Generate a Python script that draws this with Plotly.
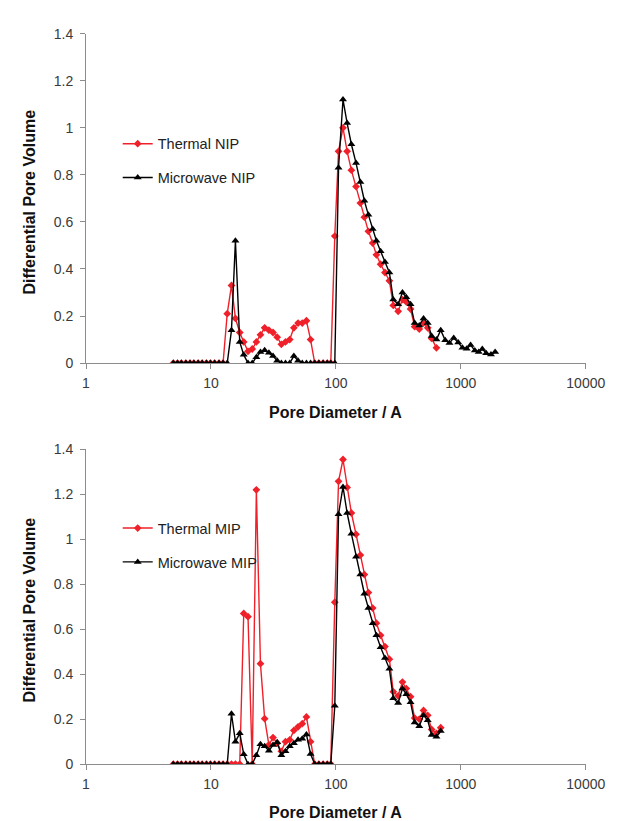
import plotly.graph_objects as go

# ---------------- data ----------------
PORE_DIAMETER = [5.0, 5.4, 5.8, 6.3, 6.8, 7.3, 7.9, 8.5, 9.2, 9.9, 10.7, 11.6, 12.5,
                 13.5, 14.6, 15.7, 17.0, 18.3, 19.8, 21.4, 23.1, 24.9, 26.9, 29.1, 31.4, 33.9,
                 36.6, 39.5, 42.7, 46.1, 49.8, 53.8, 58.1, 62.7, 67.7, 73.1, 79.0, 85.3, 91.0, 98.0,
                 105, 114, 123, 133, 145, 157, 169, 182, 197, 211,
                 228, 247, 268, 288, 315, 341, 366, 396, 427, 465,
                 503, 543, 584, 638, 690, 750, 811, 877, 953, 1030,
                 1114, 1197, 1294, 1390, 1485, 1595, 1742, 1882]

THERMAL_NIP = [0, 0, 0, 0, 0, 0, 0, 0, 0, 0, 0, 0, 0,
               0.21, 0.33, 0.19, 0.13, 0.09, 0.05, 0.06, 0.09, 0.12, 0.15, 0.14, 0.13, 0.11,
               0.08, 0.09, 0.10, 0.15, 0.17, 0.17, 0.18, 0.10, 0, 0, 0, 0, 0, 0.54,
               0.90, 1.00, 0.90, 0.82, 0.75, 0.68, 0.62, 0.56, 0.51, 0.46,
               0.42, 0.385, 0.35, 0.245, 0.22, 0.27, 0.26, 0.23, 0.155, 0.145,
               0.17, 0.15, 0.105, 0.065]

MICROWAVE_NIP = [0, 0, 0, 0, 0, 0, 0, 0, 0, 0, 0, 0, 0,
                 0, 0.14, 0.52, 0.09, 0.035, 0, 0, 0.025, 0.047, 0.055, 0.044, 0.03, 0.01,
                 0, 0, 0, 0.03, 0.01, 0, 0, 0, 0, 0, 0, 0, 0, 0,
                 0.83, 1.12, 1.02, 0.93, 0.85, 0.77, 0.69, 0.63, 0.57, 0.52,
                 0.475, 0.43, 0.385, 0.27, 0.25, 0.30, 0.28, 0.25, 0.17, 0.16,
                 0.19, 0.17, 0.115, 0.10, 0.14, 0.097, 0.085, 0.107, 0.088, 0.065,
                 0.061, 0.077, 0.054, 0.047, 0.06, 0.042, 0.037, 0.047]

THERMAL_MIP = [0, 0, 0, 0, 0, 0, 0, 0, 0, 0, 0, 0, 0,
               0, 0, 0, 0, 0.67, 0.656, 0, 1.22, 0.447, 0.202, 0.086, 0.118, 0.093,
               0.057, 0.10, 0.108, 0.15, 0.166, 0.18, 0.21, 0.10, 0, 0, 0, 0, 0, 0.72,
               1.258, 1.355, 1.231, 1.117, 1.022, 0.93, 0.843, 0.763, 0.694, 0.627,
               0.573, 0.523, 0.467, 0.322, 0.304, 0.365, 0.336, 0.30, 0.205, 0.20,
               0.239, 0.217, 0.154, 0.137, 0.162]

MICROWAVE_MIP = [0, 0, 0, 0, 0, 0, 0, 0, 0, 0, 0, 0, 0,
                 0, 0.224, 0.10, 0.137, 0.044, 0, 0, 0.04, 0.089, 0.08, 0.06, 0.085, 0.097,
                 0.04, 0.057, 0.079, 0.093, 0.108, 0.113, 0.132, 0.045, 0, 0, 0, 0, 0, 0.26,
                 1.112, 1.233, 1.117, 1.025, 0.923, 0.843, 0.758, 0.694, 0.627, 0.573,
                 0.52, 0.472, 0.424, 0.293, 0.272, 0.336, 0.311, 0.275, 0.185, 0.169,
                 0.217, 0.195, 0.13, 0.122, 0.147]

X_TICKS = [1, 10, 100, 1000, 10000]
X_TICK_LABELS = ["1", "10", "100", "1000", "10000"]
Y_TICKS = [0, 0.2, 0.4, 0.6, 0.8, 1.0, 1.2, 1.4]
Y_TICK_LABELS = ["0", "0.2", "0.4", "0.6", "0.8", "1", "1.2", "1.4"]

X_TITLE = "Pore Diameter / A"
Y_TITLE = "Differential Pore Volume"

# ---------------- style ----------------
W, H = 617, 821
RED = "#F0202A"
BLACK = "#000000"
AXIS_GREY = "#8C8C8C"
TICK_TXT = "#3A3A3A"
FONT = "Liberation Sans, Arial, sans-serif"


def fx(p):
    return p / W


def fy(p):
    return 1 - p / H


fig = go.Figure()

series = [
    ("Thermal NIP", THERMAL_NIP, RED, "diamond", 6, "x", "y", "legend", "g1"),
    ("Microwave NIP", MICROWAVE_NIP, BLACK, "triangle-up", 7, "x", "y", "legend", "g2"),
    ("Thermal MIP", THERMAL_MIP, RED, "diamond", 6, "x2", "y2", "legend2", "g3"),
    ("Microwave MIP", MICROWAVE_MIP, BLACK, "triangle-up", 7, "x2", "y2", "legend2", "g4"),
]
for name, vals, col, sym, size, xa, ya, leg, grp in series:
    fig.add_trace(go.Scatter(
        x=PORE_DIAMETER[:len(vals)], y=vals, name=name,
        mode="lines+markers",
        line=dict(color=col, width=1.4),
        marker=dict(symbol=sym, size=size, color=col, line=dict(width=0)),
        xaxis=xa, yaxis=ya, legend=leg, legendgroup=grp,
    ))

xdom = [fx(77), fx(597)]
common_x = dict(
    type="log", range=[0, 4], tickvals=X_TICKS, ticktext=X_TICK_LABELS,
    showline=True, linecolor=AXIS_GREY, linewidth=1,
    ticks="outside", ticklen=5, tickcolor=AXIS_GREY, tickwidth=1,
    showgrid=False, zeroline=False, ticklabelstandoff=2,
    tickfont=dict(family=FONT, size=14, color=TICK_TXT),
)
common_y = dict(
    range=[0, 1.4], tickvals=Y_TICKS, ticktext=Y_TICK_LABELS,
    showline=True, linecolor=AXIS_GREY, linewidth=1,
    ticks="outside", ticklen=5, tickcolor=AXIS_GREY, tickwidth=1,
    showgrid=False, zeroline=False, ticklabelstandoff=4,
    tickfont=dict(family=FONT, size=14, color=TICK_TXT),
)

legend_common = dict(
    xanchor="left", yanchor="top", bgcolor="rgba(0,0,0,0)",
    font=dict(family=FONT, size=14.5, color="#222222"),
    tracegroupgap=12, itemclick=False,
)

fig.update_layout(
    width=W, height=H,
    margin=dict(l=0, r=0, t=0, b=0),
    paper_bgcolor="white", plot_bgcolor="white",
    font=dict(family=FONT),
    xaxis=dict(domain=xdom, anchor="y", **common_x),
    yaxis=dict(domain=[fy(354), fy(18)], anchor="x", **common_y),
    xaxis2=dict(domain=xdom, anchor="y2", **common_x),
    yaxis2=dict(domain=[fy(763), fy(442)], anchor="x2", **common_y),
    legend=dict(x=fx(110), y=fy(114), **legend_common),
    legend2=dict(x=fx(110), y=fy(506), **legend_common),
)

title_font = dict(family=FONT, size=16, color="#111111")
annotations = [
    dict(text="<b>%s</b>" % X_TITLE, x=fx(337), y=fy(404), xref="paper", yref="paper",
         showarrow=False, font=title_font, xanchor="center", yanchor="middle"),
    dict(text="<b>%s</b>" % X_TITLE, x=fx(337), y=fy(812), xref="paper", yref="paper",
         showarrow=False, font=title_font, xanchor="center", yanchor="middle"),
    dict(text="<b>%s</b>" % Y_TITLE, x=fx(18), y=fy(190), xref="paper", yref="paper",
         showarrow=False, font=title_font, textangle=-90, xanchor="center", yanchor="middle"),
    dict(text="<b>%s</b>" % Y_TITLE, x=fx(18), y=fy(606), xref="paper", yref="paper",
         showarrow=False, font=title_font, textangle=-90, xanchor="center", yanchor="middle"),
]
fig.update_layout(annotations=annotations)

fig.write_html("out.html")
